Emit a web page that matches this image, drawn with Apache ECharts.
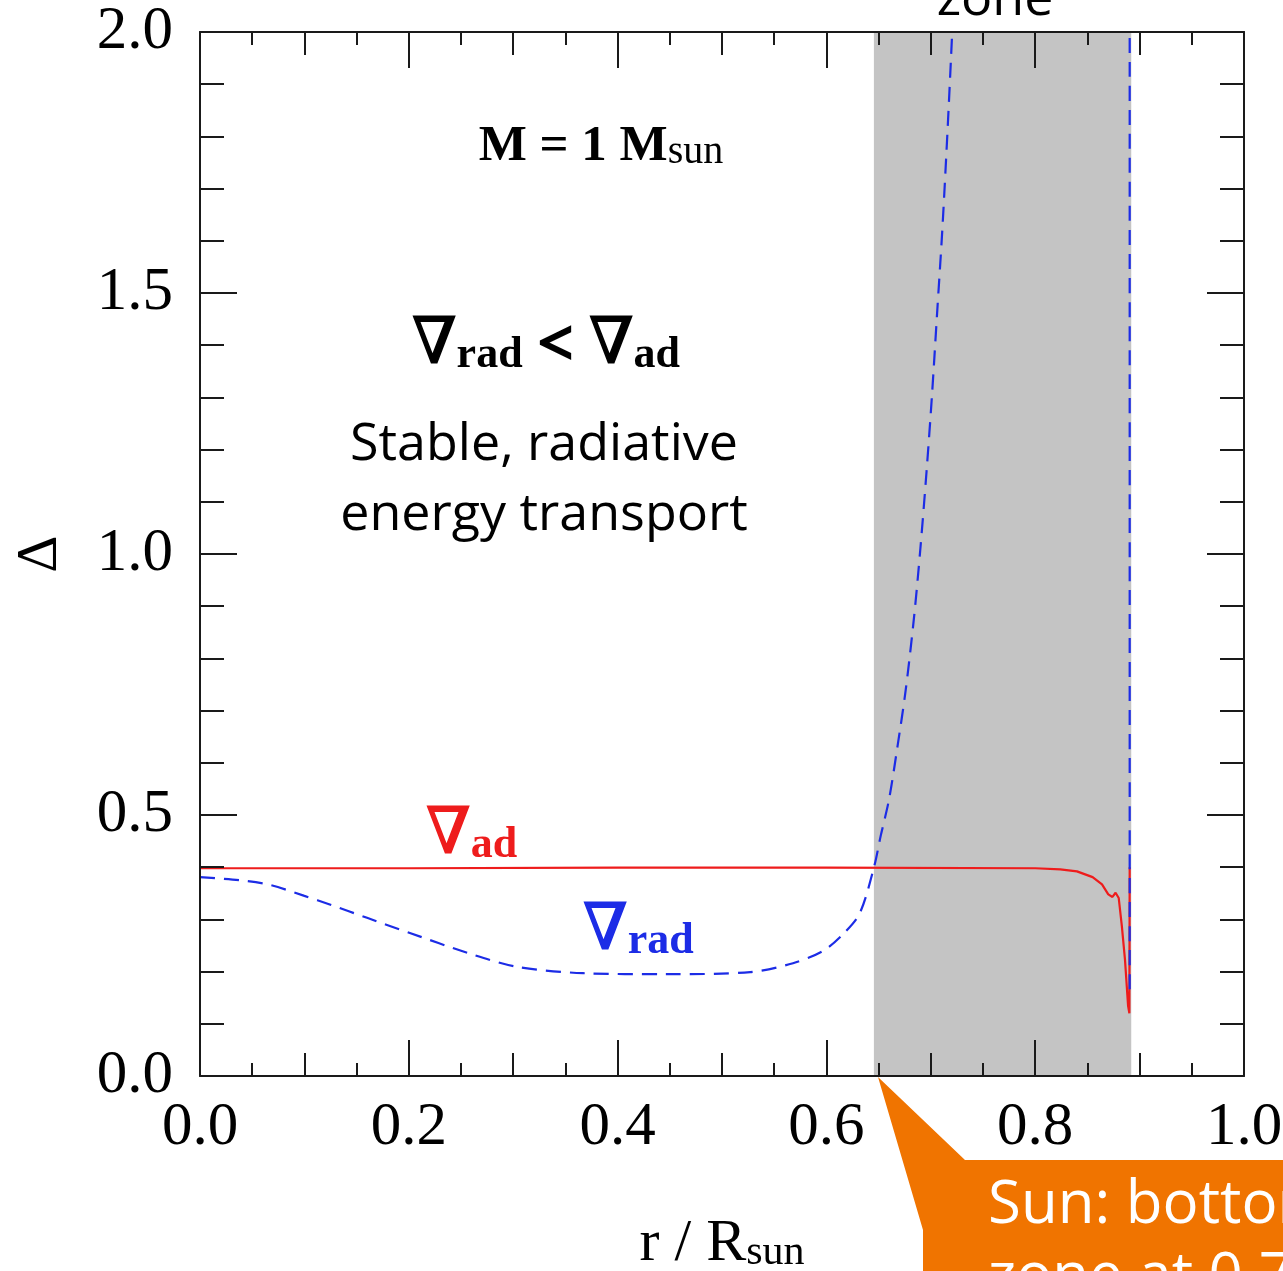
<!DOCTYPE html>
<html>
<head>
<meta charset="utf-8">
<script src="https://cdn.jsdelivr.net/npm/echarts@6/dist/echarts.min.js"></script>
<style>
  html, body { margin: 0; padding: 0; background: #fff; }
  #chart { width: 1283px; height: 1271px; }
</style>
</head>
<body>
<div id="chart"></div>
<script>
// radiative gradient (blue dashed) - r / Rsun and value; null splits the off-chart part
const radR = [0, 0.038, 0.067, 0.1, 0.125, 0.16, 0.201, 0.256, 0.304, 0.367, 0.447, 0.527, 0.568, 0.597,
    0.616, 0.632, 0.6456, 0.652, 0.66, 0.668, 0.676, 0.684, 0.69, 0.696, 0.701, 0.706, 0.711, 0.716, 0.7205, 0.726,
    null, 0.8905, 0.8905];
const radV = [0.381, 0.375, 0.366, 0.345, 0.328, 0.303, 0.274, 0.236, 0.209, 0.197, 0.195, 0.199, 0.216, 0.24,
    0.272, 0.312, 0.4, 0.46, 0.53, 0.63, 0.74, 0.88, 1.01, 1.16, 1.3, 1.46, 1.62, 1.81, 2.0, 2.25,
    null, 3.0, 0.15];

// adiabatic gradient (red solid)
const adR = [0, 0.2, 0.4, 0.6, 0.8, 0.824, 0.84, 0.855, 0.864, 0.87, 0.874, 0.877, 0.88, 0.883, 0.886, 0.889, 0.8902, 0.8905];
const adV = [0.398, 0.398, 0.399, 0.399, 0.398, 0.396, 0.392, 0.381, 0.367, 0.348, 0.343, 0.351, 0.341, 0.287, 0.223, 0.134, 0.12, 0.4];

// convection zone band
const zoneStart = 0.6455;
const zoneEnd = 0.892;

const serif = "'Liberation Serif', 'DejaVu Serif', serif";
const sans = "'Open Sans', 'Noto Sans', sans-serif";

function zip(xs, ys) {
    return xs.map((x, i) => (x === null ? null : [x, ys[i]]));
}

const lineColor = '#1a1a1a';
const blue = '#1c2ce6';
const red = '#ee1c1c';

function xAxisDef(position, main) {
    return {
        type: 'value', position: position, min: 0, max: 1,
        interval: main ? 0.2 : 0.1,
        z: 10,
        axisLine: { show: main, onZero: false, lineStyle: { color: lineColor, width: 2 } },
        axisTick: { show: true, inside: true, length: main ? 36 : 23, lineStyle: { color: lineColor, width: 2 } },
        minorTick: { show: main, splitNumber: 4, length: 13, lineStyle: { color: lineColor, width: 2 } },
        splitLine: { show: false },
        axisLabel: {
            show: main && position === 'bottom', margin: 21, showMinLabel: true, showMaxLabel: true,
            fontFamily: serif, fontSize: 61, color: '#000',
            formatter: v => v.toFixed(1)
        },
        name: main && position === 'bottom' ? '{a|r / R}{b|sun}' : '',
        nameLocation: 'middle', nameGap: 138,
        nameTextStyle: {
            rich: {
                a: { fontFamily: serif, fontSize: 60, lineHeight: 60, color: '#000', verticalAlign: 'bottom' },
                b: { fontFamily: serif, fontSize: 42, lineHeight: 40, color: '#000', verticalAlign: 'bottom' }
            }
        }
    };
}

function yAxisDef(position) {
    const left = position === 'left';
    return {
        type: 'value', position: position, min: 0, max: 2, interval: 0.5,
        z: 10,
        axisLine: { show: true, onZero: false, lineStyle: { color: lineColor, width: 2 } },
        axisTick: { show: true, inside: true, length: 37, lineStyle: { color: lineColor, width: 2 } },
        minorTick: { show: true, splitNumber: 5, length: 24, lineStyle: { color: lineColor, width: 2 } },
        splitLine: { show: false },
        axisLabel: {
            show: left, margin: 27, showMinLabel: true, showMaxLabel: true,
            fontFamily: serif, fontSize: 61, color: '#000',
            formatter: v => v.toFixed(1)
        },
        name: left ? 'Δ' : '',
        nameLocation: 'middle', nameGap: 130, nameRotate: 90,
        nameTextStyle: { fontFamily: serif, fontSize: 58, color: '#000' }
    };
}

function nablaRich(color) {
    return {
        n: { fontFamily: serif, fontSize: 64, lineHeight: 60, verticalAlign: 'bottom', fill: color, stroke: color, lineWidth: 1.5 },
        s: { fontFamily: serif, fontWeight: 'bold', fontSize: 44, lineHeight: 38, verticalAlign: 'bottom', fill: color },
        o: { fontFamily: serif, fontWeight: 'bold', fontSize: 62, lineHeight: 60, verticalAlign: 'bottom', fill: color, stroke: color, lineWidth: 2.5 }
    };
}

const chart = echarts.init(document.getElementById('chart'), null, { renderer: 'canvas' });

chart.setOption({
    animation: false,
    backgroundColor: '#fff',
    grid: { left: 200, top: 32, right: 39, bottom: 195, outerBoundsMode: 'none', containLabel: false },
    xAxis: [
        xAxisDef('bottom', true),
        xAxisDef('bottom', false),
        xAxisDef('top', true),
        xAxisDef('top', false)
    ],
    yAxis: [yAxisDef('left'), yAxisDef('right')],
    series: [
        {
            type: 'line', data: [], z: 1, silent: true,
            markArea: {
                silent: true,
                itemStyle: { color: '#c4c4c4' },
                data: [[{ xAxis: zoneStart }, { xAxis: zoneEnd }]]
            }
        },
        {
            name: 'rad', type: 'line', data: zip(radR, radV), symbol: 'none', z: 4,
            smooth: 0.3, connectNulls: false,
            lineStyle: { color: blue, width: 2.2, type: [15, 9] }
        },
        {
            name: 'ad', type: 'line', data: zip(adR, adV), symbol: 'none', z: 3,
            lineStyle: { color: red, width: 2.2 }
        }
    ],
    graphic: [
        {
            type: 'text', x: 601, y: 172, silent: true,
            style: {
                text: '{a|M = 1 M}{b|sun}', align: 'center', verticalAlign: 'bottom',
                rich: {
                    a: { fontFamily: serif, fontWeight: 'bold', fontSize: 51, lineHeight: 52, verticalAlign: 'bottom', fill: '#000' },
                    b: { fontFamily: serif, fontSize: 40, lineHeight: 38, verticalAlign: 'bottom', fill: '#000' }
                }
            }
        },
        {
            type: 'text', x: 546, y: 378, silent: true,
            style: {
                text: '{n|∇}{s|rad}{o| < }{n|∇}{s|ad}', align: 'center', verticalAlign: 'bottom',
                rich: nablaRich('#000')
            }
        },
        {
            type: 'text', x: 544, y: 410, silent: true,
            style: {
                text: 'Stable, radiative\nenergy transport', align: 'center', verticalAlign: 'top',
                font: '52px ' + sans, lineHeight: 70, fill: '#000'
            }
        },
        {
            type: 'text', x: 426, y: 868, silent: true,
            style: { text: '{n|∇}{s|ad}', align: 'left', verticalAlign: 'bottom', rich: nablaRich(red) }
        },
        {
            type: 'text', x: 583, y: 964, silent: true,
            style: { text: '{n|∇}{s|rad}', align: 'left', verticalAlign: 'bottom', rich: nablaRich(blue) }
        },
        {
            type: 'text', x: 995, y: 26, silent: true,
            style: { text: 'zone', align: 'center', verticalAlign: 'bottom', font: '52px ' + sans, fill: '#000' }
        },
        {
            type: 'polygon', silent: true, z: 20,
            shape: { points: [[878, 1077], [965, 1160], [1290, 1160], [1290, 1280], [923, 1280], [923, 1230]] },
            style: { fill: '#f07400' }
        },
        {
            type: 'text', x: 988, y: 1170, silent: true, z: 21,
            style: {
                text: 'Sun: bottom of convection\nzone at 0.7 Rsun', align: 'left', verticalAlign: 'top',
                font: '60px ' + sans, lineHeight: 72, fill: '#fff'
            }
        }
    ]
});
</script>
</body>
</html>
